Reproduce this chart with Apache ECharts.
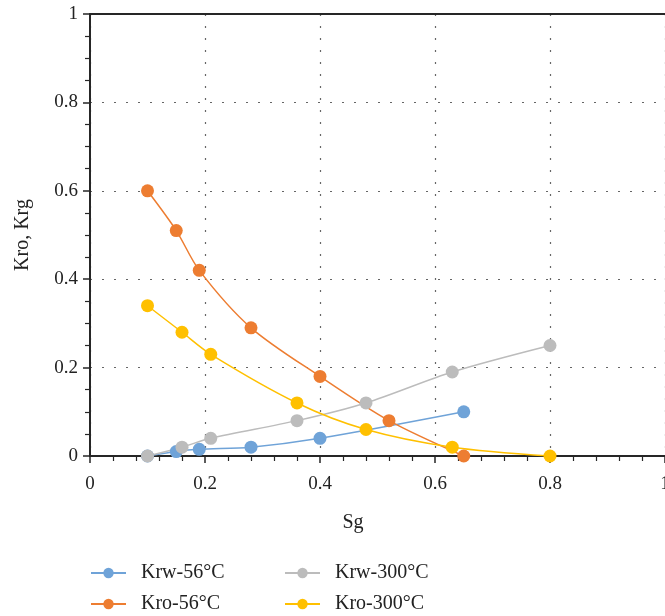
<!DOCTYPE html>
<html>
<head>
<meta charset="utf-8">
<script src="https://cdn.jsdelivr.net/npm/echarts@6/dist/echarts.min.js"></script>
<style>
  html, body { margin: 0; padding: 0; background: #fff; }
  #chart { width: 665px; height: 616px; }
</style>
</head>
<body>
<div id="chart"></div>
<script>
// Sg values and relative permeabilities
const sgKrw56 = [0.10, 0.15, 0.19, 0.28, 0.40, 0.65]
const krw56 = [0.00, 0.01, 0.015, 0.02, 0.04, 0.10]

const sgKro56 = [0.10, 0.15, 0.19, 0.28, 0.40, 0.52, 0.65]
const kro56 = [0.60, 0.51, 0.42, 0.29, 0.18, 0.08, 0.00]

const sg300 = [0.10, 0.16, 0.21, 0.36, 0.48, 0.63, 0.80]
const krw300 = [0.00, 0.02, 0.04, 0.08, 0.12, 0.19, 0.25]
const kro300 = [0.34, 0.28, 0.23, 0.12, 0.06, 0.02, 0.00]

const names = ['Krw-56°C', 'Krw-300°C', 'Kro-56°C', 'Kro-300°C']
const colors = ['#6fa3d8', '#bcbcbc', '#ed7d31', '#ffc000']

const pairs = (xs, ys) => xs.map((x, i) => [x, ys[i]])

const font = 'Liberation Serif'
const axisColor = '#262626'

const chart = echarts.init(document.getElementById('chart'))

function makeSeries(name, data, color) {
  return {
    name,
    type: 'line',
    data,
    smooth: 0.3,
    symbol: 'circle',
    symbolSize: 13,
    lineStyle: { width: 1.5, color },
    itemStyle: { color },
    z: 3,
  }
}

// one legend per entry so the 2x2 layout stays put
function makeLegend(name, left, top) {
  return {
    data: [name],
    left, top,
    padding: 0,
    itemWidth: 35, itemHeight: 13,
    textStyle: { fontFamily: font, fontSize: 20, color: '#222', padding: [0, 0, 0, 10] },
  }
}

chart.setOption({
  animation: false,
  backgroundColor: '#fff',
  grid: { left: 90, right: 0, top: 14, bottom: 160, outerBoundsMode: 'none' },
  legend: [
    makeLegend(names[0], 90, 563),
    makeLegend(names[1], 284, 563),
    makeLegend(names[2], 90, 594),
    makeLegend(names[3], 284, 594),
  ],
  graphic: [
    {
      type: 'text',
      x: 353, y: 523,
      style: {
        text: 'Sg',
        fontFamily: font, fontSize: 20, fill: '#222',
        textAlign: 'center', textVerticalAlign: 'middle',
      },
    },
  ],
  xAxis: [
    {
      type: 'value',
      min: 0, max: 1, interval: 0.2,
      axisLine: { lineStyle: { color: axisColor, width: 2 } },
      axisTick: { show: true, length: 7, lineStyle: { color: axisColor, width: 1.5 } },
      minorTick: { show: true, splitNumber: 5, length: 5, lineStyle: { color: axisColor, width: 1.2 } },
      axisLabel: { fontFamily: font, fontSize: 19, color: '#222', margin: 19 },
      splitLine: { show: true, lineStyle: { color: '#666', type: [2, 10], width: 1.2 } },
    },
    {
      type: 'value',
      position: 'top',
      min: 0, max: 1,
      axisLine: { show: true, lineStyle: { color: axisColor, width: 2 } },
      axisTick: { show: false },
      axisLabel: { show: false },
      splitLine: { show: false },
    },
  ],
  yAxis: {
    type: 'value',
    min: 0, max: 1, interval: 0.2,
    name: 'Kro, Krg',
    nameLocation: 'middle',
    nameGap: 57,
    nameTextStyle: { fontFamily: font, fontSize: 20, color: '#222' },
    axisLine: { show: true, lineStyle: { color: axisColor, width: 2 } },
    axisTick: { show: true, length: 7, lineStyle: { color: axisColor, width: 1.5 } },
    minorTick: { show: true, splitNumber: 4, length: 5, lineStyle: { color: axisColor, width: 1.2 } },
    axisLabel: { fontFamily: font, fontSize: 19, color: '#222', margin: 12 },
    splitLine: { show: true, lineStyle: { color: '#666', type: [2, 10], width: 1.2 } },
  },
  series: [
    makeSeries(names[0], pairs(sgKrw56, krw56), colors[0]),
    makeSeries(names[1], pairs(sg300, krw300), colors[1]),
    makeSeries(names[2], pairs(sgKro56, kro56), colors[2]),
    makeSeries(names[3], pairs(sg300, kro300), colors[3]),
  ],
})
</script>
</body>
</html>
